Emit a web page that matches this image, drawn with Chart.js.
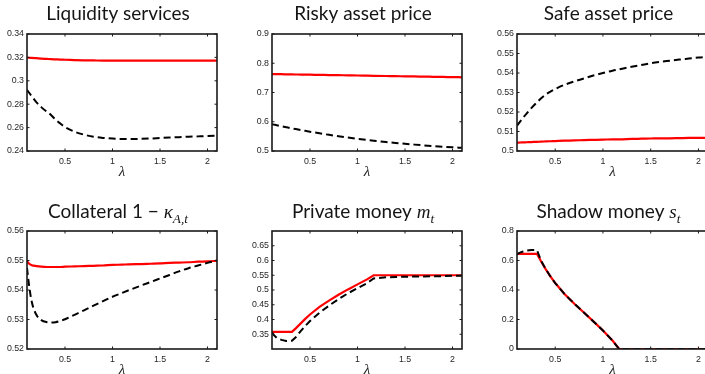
<!DOCTYPE html>
<html>
<head>
<meta charset="utf-8">
<script src="https://cdn.jsdelivr.net/npm/chart.js@4.4.0/dist/chart.umd.min.js"></script>
<style>
  html, body { margin: 0; padding: 0; background: #fff; overflow: hidden; width: 705px; height: 374px; }
  canvas { position: absolute; }
</style>
</head>
<body>
<canvas id="c1"></canvas>
<canvas id="c2"></canvas>
<canvas id="c3"></canvas>
<canvas id="c4"></canvas>
<canvas id="c5"></canvas>
<canvas id="c6"></canvas>
<script>
// Grid of lambda values shared by every panel
const lambdaGrid = [0.1, 0.12, 0.15, 0.2, 0.25, 0.31, 0.35, 0.4, 0.45, 0.5, 0.6, 0.7, 0.8, 0.9, 1.0, 1.1, 1.17, 1.3, 1.4, 1.5, 1.6, 1.7, 1.8, 1.9, 2.0, 2.1];

// Liquidity services
const liquidityRed   = [0.3198, 0.3197, 0.3196, 0.3193, 0.3190, 0.3187, 0.3185, 0.3183, 0.3181, 0.3180, 0.3177, 0.3175, 0.3174, 0.3173, 0.3173, 0.3172, 0.3172, 0.3172, 0.3172, 0.3172, 0.3172, 0.3172, 0.3172, 0.3172, 0.3172, 0.3172];
const liquidityBlack = [0.2923, 0.2900, 0.2868, 0.2815, 0.2775, 0.2735, 0.2710, 0.2668, 0.2635, 0.2605, 0.2565, 0.2540, 0.2522, 0.2512, 0.2506, 0.2503, 0.2502, 0.2504, 0.2507, 0.2511, 0.2515, 0.2518, 0.2522, 0.2525, 0.2528, 0.2531];

// Risky asset price
const riskyRed   = [0.7630, 0.7629, 0.7627, 0.7625, 0.7622, 0.7618, 0.7616, 0.7614, 0.7611, 0.7608, 0.7603, 0.7597, 0.7592, 0.7586, 0.7581, 0.7575, 0.7571, 0.7564, 0.7559, 0.7553, 0.7548, 0.7542, 0.7537, 0.7531, 0.7526, 0.7520];
const riskyBlack = [0.5915, 0.5901, 0.5880, 0.5846, 0.5813, 0.5774, 0.5749, 0.5719, 0.5690, 0.5660, 0.5605, 0.5553, 0.5505, 0.5460, 0.5418, 0.5379, 0.5353, 0.5308, 0.5276, 0.5246, 0.5218, 0.5192, 0.5168, 0.5146, 0.5126, 0.5107];

// Safe asset price
const safeRed   = [0.5043, 0.5043, 0.5044, 0.5045, 0.5046, 0.5047, 0.5048, 0.5049, 0.5050, 0.5051, 0.5053, 0.5054, 0.5056, 0.5057, 0.5058, 0.5060, 0.5060, 0.5062, 0.5063, 0.5064, 0.5065, 0.5065, 0.5066, 0.5067, 0.5067, 0.5068];
const safeBlack = [0.5130, 0.5143, 0.5162, 0.5192, 0.5220, 0.5250, 0.5269, 0.5289, 0.5305, 0.5318, 0.5340, 0.5357, 0.5372, 0.5387, 0.5400, 0.5412, 0.5419, 0.5432, 0.5441, 0.5450, 0.5457, 0.5463, 0.5469, 0.5474, 0.5479, 0.5482];

// Collateral 1 - kappa
const collateralRed   = [0.5499, 0.5490, 0.5484, 0.5481, 0.5479, 0.5478, 0.5478, 0.5478, 0.5478, 0.5479, 0.5480, 0.5481, 0.5482, 0.5483, 0.5485, 0.5486, 0.5487, 0.5488, 0.5489, 0.5490, 0.5492, 0.5493, 0.5494, 0.5496, 0.5497, 0.5499];
const collateralBlack = [0.5475, 0.5420, 0.5360, 0.5315, 0.5298, 0.5291, 0.5290, 0.5291, 0.5295, 0.5301, 0.5316, 0.5331, 0.5347, 0.5362, 0.5377, 0.5390, 0.5399, 0.5415, 0.5427, 0.5439, 0.5451, 0.5463, 0.5474, 0.5483, 0.5492, 0.5500];

// Private money m_t
const privateRed   = [0.358, 0.358, 0.358, 0.358, 0.358, 0.358, 0.370, 0.386, 0.402, 0.417, 0.443, 0.464, 0.484, 0.502, 0.519, 0.536, 0.550, 0.550, 0.550, 0.550, 0.550, 0.550, 0.550, 0.550, 0.550, 0.550];
const privateBlack = [0.356, 0.347, 0.338, 0.331, 0.327, 0.328, 0.340, 0.360, 0.378, 0.395, 0.423, 0.447, 0.469, 0.489, 0.506, 0.523, 0.539, 0.543, 0.544, 0.545, 0.546, 0.546, 0.547, 0.547, 0.548, 0.548];

// Shadow money s_t
const shadowRed   = [0.645, 0.645, 0.645, 0.645, 0.645, 0.645, 0.597, 0.542, 0.492, 0.447, 0.371, 0.307, 0.247, 0.187, 0.125, 0.057, 0.0, 0.0, 0.0, 0.0, 0.0, 0.0, 0.0, 0.0, 0.0, 0.0];
const shadowBlack = [0.642, 0.650, 0.658, 0.667, 0.671, 0.670, 0.602, 0.542, 0.492, 0.447, 0.371, 0.307, 0.247, 0.187, 0.125, 0.057, 0.0, 0.0, 0.0, 0.0, 0.0, 0.0, 0.0, 0.0, 0.0, 0.0];

// Tick values
const xTicks = [0.5, 1, 1.5, 2];
const liquidityTicks  = [0.24, 0.26, 0.28, 0.3, 0.32, 0.34];
const riskyTicks      = [0.5, 0.6, 0.7, 0.8, 0.9];
const safeTicks       = [0.5, 0.51, 0.52, 0.53, 0.54, 0.55, 0.56];
const collateralTicks = [0.52, 0.53, 0.54, 0.55, 0.56];
const privateTicks    = [0.35, 0.4, 0.45, 0.5, 0.55, 0.6, 0.65];
const shadowTicks     = [0, 0.2, 0.4, 0.6, 0.8];

const TICK_FONT = { family: 'Liberation Sans', size: 8.8 };
const TICK_COLOR = '#262626';
const TITLE_FAMILY = 'Lato';
const MATH_FAMILY = 'Liberation Serif';

const fmt = v => String(+(+v).toFixed(4));

// Title drawn from mixed text runs (upright, italic, subscript)
const panelTitle = {
  id: 'panelTitle',
  afterDraw(chart, args, opts) {
    const { ctx, chartArea } = chart;
    const size = opts.size;
    let total = 0;
    const parts = opts.segments.map(s => {
      const fs = s.sub ? size * 0.7 : size;
      const font = (s.italic ? 'italic ' : '') + fs + 'px "' + (s.math ? MATH_FAMILY : TITLE_FAMILY) + '"';
      ctx.font = font;
      const w = ctx.measureText(s.text).width;
      total += w;
      return { font, w, s };
    });
    let x = (chartArea.left + chartArea.right) / 2 + opts.offsetX - total / 2;
    ctx.save();
    ctx.fillStyle = '#151515';
    ctx.textAlign = 'left';
    ctx.textBaseline = 'alphabetic';
    parts.forEach(p => {
      ctx.font = p.font;
      ctx.fillText(p.s.text, x, opts.baseline + (p.s.sub ? size * 0.28 : 0));
      x += p.w;
    });
    ctx.restore();
  }
};

// Boxed axes with inward tick marks on all four sides
const boxFrame = {
  id: 'boxFrame',
  afterDatasetsDraw(chart) {
    const { ctx, chartArea: a, scales } = chart;
    const len = 2.5;
    ctx.save();
    ctx.strokeStyle = '#1a1a1a';
    ctx.lineWidth = 1;
    ctx.beginPath();
    scales.x.ticks.forEach(t => {
      const px = scales.x.getPixelForValue(t.value);
      ctx.moveTo(px, a.bottom); ctx.lineTo(px, a.bottom - len);
      ctx.moveTo(px, a.top); ctx.lineTo(px, a.top + len);
    });
    scales.y.ticks.forEach(t => {
      const py = scales.y.getPixelForValue(t.value);
      ctx.moveTo(a.left, py); ctx.lineTo(a.left + len, py);
      ctx.moveTo(a.right, py); ctx.lineTo(a.right - len, py);
    });
    ctx.stroke();
    ctx.lineWidth = 1.6;
    ctx.strokeRect(a.left, a.top, a.right - a.left, a.bottom - a.top);
    ctx.restore();
  }
};

const topRow = { top: 0, h: 181, padTop: 34, baseline: 20 };
const botRow = { top: 187, h: 192, padTop: 44, baseline: 31 };
const cols = [
  { left: 0,   w: 235, yw: 27, padRight: 18 },
  { left: 235, w: 235, yw: 37, padRight: 8 },
  { left: 470, w: 250, yw: 47, padRight: 12 }
];

const panels = [
  { id: 'c1', row: topRow, col: cols[0], red: liquidityRed, black: liquidityBlack, min: 0.24, max: 0.34, ticks: liquidityTicks, smooth: true,
    title: [{ text: 'Liquidity services' }] },
  { id: 'c2', row: topRow, col: cols[1], red: riskyRed, black: riskyBlack, min: 0.5, max: 0.9, ticks: riskyTicks, smooth: true,
    title: [{ text: 'Risky asset price' }] },
  { id: 'c3', row: topRow, col: cols[2], red: safeRed, black: safeBlack, min: 0.5, max: 0.56, ticks: safeTicks, smooth: true,
    title: [{ text: 'Safe asset price' }] },
  { id: 'c4', row: botRow, col: cols[0], red: collateralRed, black: collateralBlack, min: 0.52, max: 0.56, ticks: collateralTicks, smooth: true,
    title: [{ text: 'Collateral 1 \u2212 ' }, { text: '\u03BA', italic: true, math: true }, { text: 'A,t', italic: true, math: true, sub: true }] },
  { id: 'c5', row: botRow, col: cols[1], red: privateRed, black: privateBlack, min: 0.3, max: 0.7, ticks: privateTicks, smooth: false,
    title: [{ text: 'Private money ' }, { text: 'm', italic: true, math: true }, { text: 't', italic: true, math: true, sub: true }] },
  { id: 'c6', row: botRow, col: cols[2], red: shadowRed, black: shadowBlack, min: 0, max: 0.8, ticks: shadowTicks, smooth: false,
    title: [{ text: 'Shadow money ' }, { text: 's', italic: true, math: true }, { text: 't', italic: true, math: true, sub: true }] }
];

panels.forEach(p => {
  const canvas = document.getElementById(p.id);
  canvas.width = p.col.w;
  canvas.height = p.row.h;
  canvas.style.left = p.col.left + 'px';
  canvas.style.top = p.row.top + 'px';
  const series = arr => lambdaGrid.map((x, i) => ({ x, y: arr[i] }));
  const interp = p.smooth ? 'monotone' : 'default';
  new Chart(canvas, {
    type: 'line',
    data: {
      datasets: [
        { data: series(p.black), borderColor: '#000000', borderWidth: 2, borderDash: [7, 4],
          pointRadius: 0, order: 0, tension: 0, cubicInterpolationMode: interp },
        { data: series(p.red), borderColor: '#ff0000', borderWidth: 2.2,
          pointRadius: 0, order: 1, tension: 0, cubicInterpolationMode: interp }
      ]
    },
    options: {
      responsive: false,
      animation: false,
      devicePixelRatio: 1,
      layout: { padding: { top: p.row.padTop, right: p.col.padRight, left: 0, bottom: 0 } },
      plugins: {
        legend: { display: false },
        tooltip: { enabled: false },
        panelTitle: { segments: p.title, size: 19, baseline: p.row.baseline, offsetX: -4 }
      },
      scales: {
        x: {
          type: 'linear', min: 0.1, max: 2.1,
          afterBuildTicks: s => { s.ticks = xTicks.map(v => ({ value: v })); },
          afterFit: s => { s.height = 30; },
          grid: { display: false, drawTicks: false },
          border: { display: false },
          ticks: { padding: 5, font: TICK_FONT, color: TICK_COLOR, maxRotation: 0, autoSkip: false, callback: v => fmt(v) },
          title: { display: true, text: '\u03BB', padding: 0, color: '#222',
                   font: { family: MATH_FAMILY, style: 'italic', size: 15 } }
        },
        y: {
          type: 'linear', min: p.min, max: p.max,
          afterBuildTicks: s => { s.ticks = p.ticks.map(v => ({ value: v })); },
          afterFit: s => { s.width = p.col.yw; },
          grid: { display: false, drawTicks: false },
          border: { display: false },
          ticks: { padding: 3, font: TICK_FONT, color: TICK_COLOR, autoSkip: false, callback: v => fmt(v) }
        }
      }
    },
    plugins: [panelTitle, boxFrame]
  });
});
</script>
</body>
</html>
